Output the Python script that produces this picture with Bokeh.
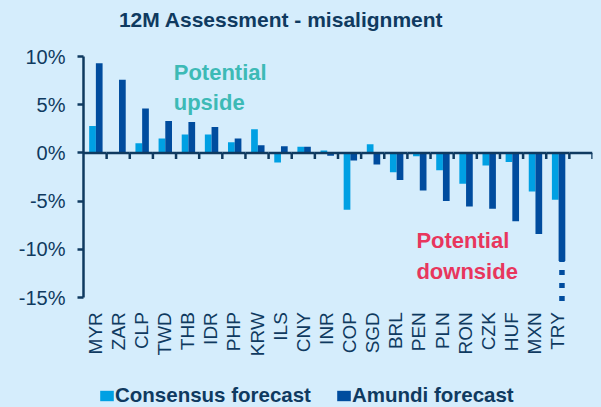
import math
from bokeh.plotting import figure
from bokeh.models import (ColumnDataSource, Range1d, FactorRange, FixedTicker, PrintfTickFormatter,
                          Label, Legend, LegendItem, GlobalInlineStyleSheet)
from bokeh.core.properties import value
from bokeh.transform import dodge
from bokeh.embed import file_html
from bokeh.resources import INLINE

# ---- data (values in %) ----
currencies = ["MYR", "ZAR", "CLP", "TWD", "THB", "IDR", "PHP", "KRW", "ILS", "CNY", "INR",
              "COP", "SGD", "BRL", "PEN", "PLN", "RON", "CZK", "HUF", "MXN", "TRY"]
consensus = [2.8, 0.0, 1.0, 1.5, 1.9, 1.9, 1.1, 2.45, -1.0, 0.65, 0.25,
             -5.9, 0.9, -2.0, -0.35, -1.8, -3.2, -1.3, -0.95, -4.0, -4.85]
amundi = [9.3, 7.6, 4.6, 3.3, 3.2, 2.7, 1.5, 0.8, 0.7, 0.65, -0.3,
          -0.8, -1.2, -2.8, -3.9, -5.0, -5.55, -5.8, -7.1, -8.4, -11.2]
y_ticks = [-15, -10, -5, 0, 5, 10]
series_names = ["Consensus forecast", "Amundi forecast"]
title_text = "12M Assessment - misalignment"

BG = "#D5EDFC"
NAVY = "#0F3A60"
C_CONS = "#00A0E3"
C_AMU = "#004C9E"
FONT = "Liberation Sans"

factors = currencies + [" "]  # trailing empty slot as in the original

# the plot area covers the whole canvas height; the value axis is bounded to -15%..10%
p = figure(width=601, height=407, x_range=FactorRange(*factors, range_padding=0),
           y_range=Range1d(-26.41, 15.81),
           output_backend="svg", toolbar_location=None,
           min_border_left=83, min_border_right=9, min_border_top=0, min_border_bottom=0)
p.stylesheets = [GlobalInlineStyleSheet(css="html, body { background: %s; }" % BG)]
p.background_fill_color = BG
p.border_fill_color = BG
p.outline_line_color = None
p.grid.visible = False
p.xaxis.visible = False

src = ColumnDataSource(dict(cat=currencies, cons=consensus, amu=amundi))
bar_w = 0.29
r_cons = p.vbar(x=dodge("cat", -0.11, range=p.x_range), top="cons", bottom=0, width=bar_w,
                source=src, fill_color=C_CONS, line_color=None)
r_amu = p.vbar(x=dodge("cat", 0.18, range=p.x_range), top="amu", bottom=0, width=bar_w,
               source=src, fill_color=C_AMU, line_color=None)

# dotted continuation of the truncated TRY bar
p.segment(x0=dodge("cat", 0.18, range=p.x_range), x1=dodge("cat", 0.18, range=p.x_range),
          y0="amu", y1=y_ticks[0] - 0.5,
          source=ColumnDataSource(dict(cat=currencies[-1:], amu=amundi[-1:])),
          line_color=C_AMU, line_width=5.5, line_dash="5 8", line_dash_offset=4, line_cap="butt")

# zero line with category-boundary ticks
bsrc = ColumnDataSource(dict(cat=factors))
p.segment(x0=dodge("cat", -0.5, range=p.x_range), x1=dodge("cat", 0.5, range=p.x_range),
          y0=0, y1=0, source=bsrc, line_color=NAVY, line_width=2.5)
p.segment(x0=dodge("cat", 0.5, range=p.x_range), x1=dodge("cat", 0.5, range=p.x_range),
          y0=0, y1=-0.62, source=bsrc, line_color=NAVY, line_width=2.5)

# y axis
p.yaxis.bounds = (y_ticks[0], y_ticks[-1])
p.yaxis.ticker = FixedTicker(ticks=y_ticks)
p.yaxis.formatter = PrintfTickFormatter(format="%d%%")
p.yaxis.axis_line_color = NAVY
p.yaxis.axis_line_width = 2.5
p.yaxis.major_tick_line_color = NAVY
p.yaxis.major_tick_line_width = 2.5
p.yaxis.major_tick_out = 6
p.yaxis.major_tick_in = 0
p.yaxis.minor_tick_line_color = None
p.yaxis.major_label_standoff = 12
p.yaxis.major_label_text_font = FONT
p.yaxis.major_label_text_font_size = "20px"
p.yaxis.major_label_text_color = NAVY

# category labels, vertical, hanging below the -15% line
p.text(x="cat", y=-16.52, text="cat", source=ColumnDataSource(dict(cat=currencies)),
       angle=math.pi / 2, text_align="right", text_baseline="middle",
       text_font=value(FONT), text_font_size="19px", text_color=NAVY)

# chart title
p.add_layout(Label(x=1.53, y=13.85, text=title_text, text_font=FONT, text_font_size="21px",
                   text_font_style="bold", text_color=NAVY, text_baseline="alphabetic"))

# annotations
for txt, x, y, col in [("Potential", 3.9, 8.33, "#3DBAB6"), ("upside", 3.9, 5.22, "#3DBAB6"),
                       ("Potential", 14.39, -9.13, "#E8365D"), ("downside", 14.39, -12.29, "#E8365D")]:
    p.add_layout(Label(x=x, y=y, text=txt, text_font=FONT, text_font_size="22px",
                       text_font_style="bold", text_color=col, text_baseline="alphabetic"))

legend = Legend(items=[LegendItem(label=series_names[0], renderers=[r_cons]),
                       LegendItem(label=series_names[1], renderers=[r_amu])],
                orientation="horizontal", location=(15, 0),
                background_fill_alpha=0, border_line_color=None,
                padding=0, margin=0, spacing=24, glyph_width=17, glyph_height=13,
                label_standoff=0, label_text_font=FONT, label_text_font_size="20.5px",
                label_text_font_style="bold", label_text_color=NAVY, label_height=20)
p.add_layout(legend, "center")

open("out.html", "w").write(file_html(p, INLINE))
